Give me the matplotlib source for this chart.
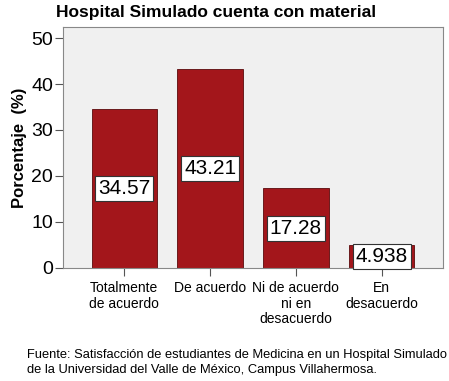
import matplotlib
matplotlib.use("Agg")
import matplotlib.pyplot as plt

categories = ["Totalmente\nde acuerdo", "De acuerdo", "Ni de acuerdo\nni en\ndesacuerdo", "En\ndesacuerdo"]
values = [34.57, 43.21, 17.28, 4.938]
labels = ["34.57", "43.21", "17.28", "4.938"]
yticks = [0, 10, 20, 30, 40, 50]

plt.rcParams['font.family'] = ['Liberation Sans', 'DejaVu Sans']

fig = plt.figure(figsize=(4.49, 3.81), dpi=100)
ax = fig.add_axes([0.140, 0.297, 0.847, 0.632])
ax.set_facecolor('#f0f0f0')
x = list(range(len(values)))
ax.bar(x, values, width=0.76, color='#a3161b', edgecolor='#5a0a0c', linewidth=0.6, zorder=2)
for xi, v, lab in zip(x, values, labels):
    ax.text(xi, v / 2, lab, ha='center', va='center', fontsize=15, zorder=3,
            bbox=dict(boxstyle='square,pad=0.14', facecolor='white', edgecolor='#333333', linewidth=0.8))
ax.set_xlim(-0.715, 3.715)
ax.set_ylim(0, 52.4)
ax.set_yticks(yticks)
ax.set_yticklabels([str(t) for t in yticks], fontsize=14)
ax.set_xticks(x)
ax.set_xticklabels(categories, fontsize=10, linespacing=1.15)
ax.tick_params(axis='both', direction='out', length=6, color='#555555', width=0.8)
ax.tick_params(axis='y', pad=1)
for s in ax.spines.values():
    s.set_color('#888888')
    s.set_linewidth(0.8)
ax.set_ylabel("Porcentaje  (%)", fontsize=12, fontweight='bold', labelpad=3)
fig.text(216 / 449, 1 - 12 / 381, "Hospital Simulado cuenta con material", ha='center', va='center',
         fontsize=12.5, fontweight='bold')
fig.text(27 / 449, 1 - 355 / 381, "Fuente: Satisfacción de estudiantes de Medicina en un Hospital Simulado",
         ha='left', va='center', fontsize=9.3)
fig.text(27 / 449, 1 - 370 / 381, "de la Universidad del Valle de México, Campus Villahermosa.",
         ha='left', va='center', fontsize=9.3)
fig.savefig("out.png", dpi=100)
